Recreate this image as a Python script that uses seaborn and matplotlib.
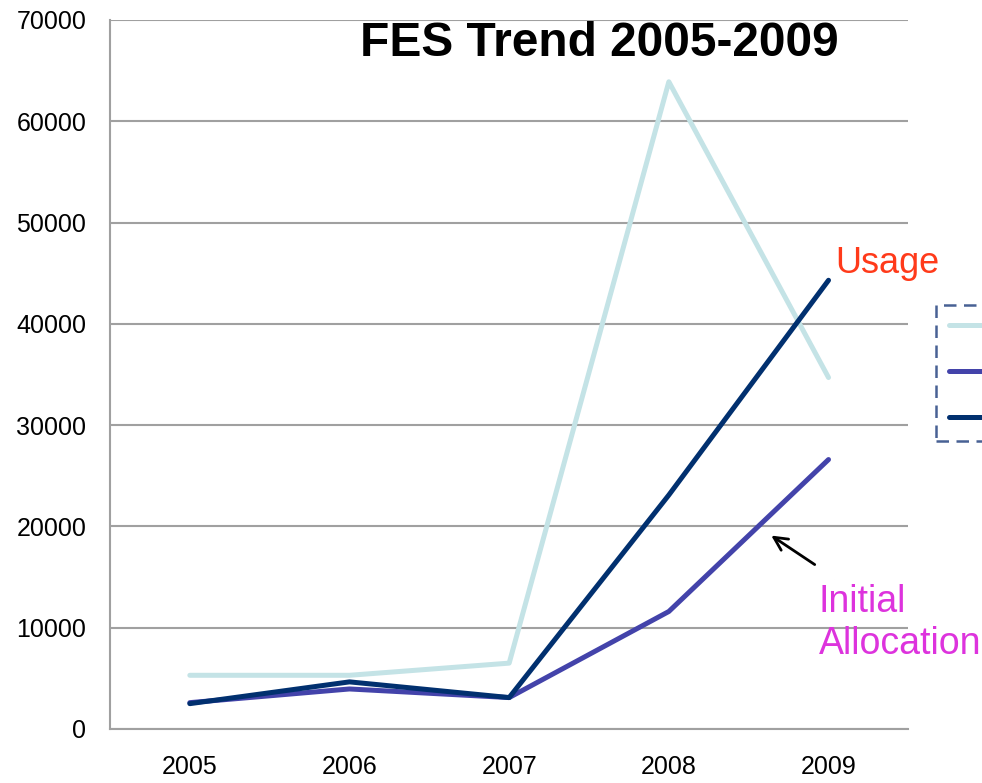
import matplotlib
matplotlib.use("Agg")
import matplotlib.pyplot as plt
import seaborn as sns
import pandas as pd

# values
years = [2005, 2006, 2007, 2008, 2009]
requested = [5300, 5300, 6500, 63900, 34700]
initial_allocation = [2600, 3950, 3100, 11600, 26600]
usage = [2500, 4650, 3100, 23100, 44300]

series_names = ["Requested", "Initial Allocation", "Usage"]
colors = ["#C4E3E6", "#4343AA", "#01306F"]

df = pd.concat([
    pd.DataFrame({"year": years, "value": requested, "series": series_names[0]}),
    pd.DataFrame({"year": years, "value": initial_allocation, "series": series_names[1]}),
    pd.DataFrame({"year": years, "value": usage, "series": series_names[2]}),
])

sns.set_theme(style="white")
plt.rcParams["font.family"] = ["Liberation Sans", "DejaVu Sans"]

fig = plt.figure(figsize=(9.82, 7.83), dpi=100)
ax = fig.add_axes([0.112, 0.069, 0.813, 0.9055])

sns.lineplot(data=df, x="year", y="value", hue="series", palette=colors,
             linewidth=3.6, ax=ax, legend=True)

ax.set_xlim(2004.5, 2009.5)
ax.set_ylim(0, 70000)
ax.set_xticks(years)
ax.set_xticklabels([str(y) for y in years], fontsize=18)
ax.set_yticks(range(0, 70001, 10000))
ax.set_yticklabels([str(v) for v in range(0, 70001, 10000)], fontsize=18)
ax.tick_params(axis="x", length=0, pad=19, colors="black")
ax.tick_params(axis="y", length=7, width=1.5, pad=10, colors="black")
ax.tick_params(axis="y", color="#A0A0A0")
ax.set_xlabel("")
ax.set_ylabel("")

ax.yaxis.grid(True, color="#A0A0A0", linewidth=1.5)
ax.set_axisbelow(True)
for side in ["top", "right"]:
    ax.spines[side].set_visible(False)
for side in ["left", "bottom"]:
    ax.spines[side].set_color("#A0A0A0")
    ax.spines[side].set_linewidth(1.5)

leg = ax.legend(loc="upper left", bbox_to_anchor=(936 / 982, 1 - 305 / 783),
                bbox_transform=fig.transFigure, frameon=True,
                fontsize=15, handlelength=2.2, borderpad=0.6, labelspacing=1.3,
                fancybox=False, borderaxespad=0)
leg.get_frame().set_edgecolor("#1A3A7A")
leg.get_frame().set_linestyle((0, (5, 3)))
leg.get_frame().set_linewidth(1.8)

fig.text(0.61, 0.945, "FES Trend 2005-2009", fontsize=34.5, fontweight="bold",
         ha="center", va="center", color="black")

fig.text(0.851, 0.664, "Usage", fontsize=26,
         color="#FF3A1A", ha="left", va="center")
fig.text(0.834, 0.204, "Initial\nAllocation", fontsize=27,
         color="#DD33DD", ha="left", va="center", linespacing=1.2)
ax.annotate("", xy=(0.783, 0.318), xytext=(0.832, 0.277),
            xycoords="figure fraction", textcoords="figure fraction",
            arrowprops=dict(arrowstyle="->", color="black", lw=2,
                            mutation_scale=24))

fig.savefig("out.png", dpi=100)
